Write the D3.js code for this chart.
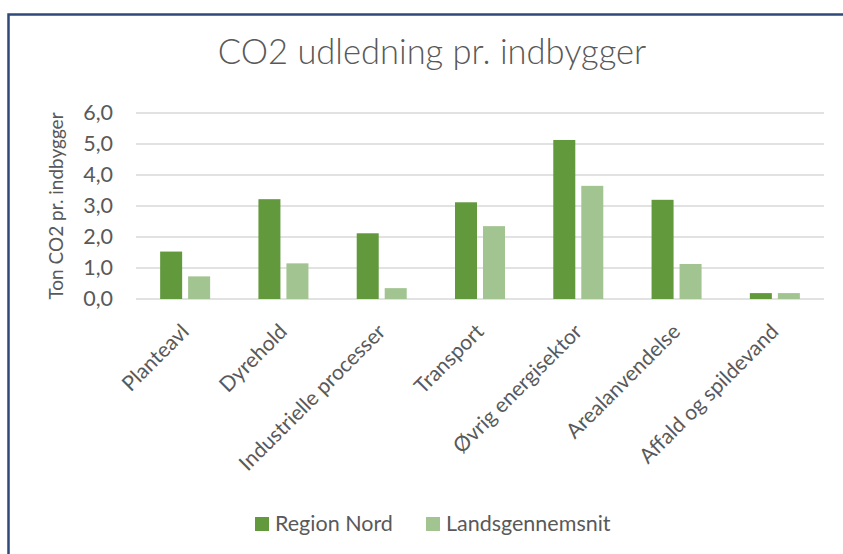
<!DOCTYPE html>
<html>
<head>
<meta charset="utf-8">
<script src="https://cdn.jsdelivr.net/npm/d3@7"></script>
<style>
  html, body { margin: 0; padding: 0; background: #fff; }
  svg { display: block; font-family: Lato, "Open Sans", sans-serif; }
</style>
</head>
<body>
<svg id="chart" width="843" height="554"></svg>
<script>
const categories = ["Planteavl", "Dyrehold", "Industrielle processer", "Transport", "Øvrig energisektor", "Arealanvendelse", "Affald og spildevand"];
const seriesNames = ["Region Nord", "Landsgennemsnit"];
const regionNord = [1.53, 3.22, 2.12, 3.12, 5.13, 3.20, 0.19];
const landsgennemsnit = [0.73, 1.15, 0.35, 2.35, 3.65, 1.13, 0.19];
const yTicks = [0, 1, 2, 3, 4, 5, 6];
const colors = ["#63993D", "#A2C490"];

const svg = d3.select("#chart");
const W = 843, H = 554;
const margin = { left: 136, right: 19, top: 113, bottom: 255 };
const plotW = W - margin.left - margin.right;
const plotH = H - margin.top - margin.bottom;
const textColor = "#595959";

// frame (only top and left edges fall inside the picture)
svg.append("rect").attr("x", 8.5).attr("y", 14.5).attr("width", W + 20).attr("height", H + 20)
  .attr("fill", "#fff").attr("stroke", "#2F4A7A").attr("stroke-width", 2.5);

svg.append("text").attr("x", 432).attr("y", 64).attr("text-anchor", "middle")
  .attr("font-size", 34.5).attr("font-weight", 300).attr("fill", textColor)
  .text("CO2 udledning pr. indbygger");

const g = svg.append("g").attr("transform", `translate(${margin.left},${margin.top})`);

const x0 = d3.scaleBand().domain(categories).range([0, plotW]).paddingInner(0).paddingOuter(0);
const x1 = d3.scaleBand().domain(seriesNames)
  .range([x0.bandwidth() / 2 - 25, x0.bandwidth() / 2 + 25]).paddingInner(0.214).paddingOuter(0);
const y = d3.scaleLinear().domain([0, 6]).range([plotH, 0]);

const locale = d3.formatLocale({ decimal: ",", thousands: ".", grouping: [3], currency: ["", " kr"] });
const fmt = locale.format(".1f");

// gridlines
g.append("g").selectAll("line").data(yTicks).join("line")
  .attr("x1", 0).attr("x2", plotW)
  .attr("y1", d => y(d)).attr("y2", d => y(d))
  .attr("stroke", "#D9D9D9").attr("stroke-width", 1.5);

// y axis
const yAxis = d3.axisLeft(y).tickValues(yTicks).tickFormat(fmt).tickSize(0).tickPadding(23);
const ya = g.append("g").call(yAxis);
ya.select(".domain").remove();
ya.selectAll("text").attr("font-size", 21.5).attr("fill", textColor)
  .attr("font-family", "Lato, 'Open Sans', sans-serif");

// bars
const data = categories.map((c, i) => ({ cat: c, vals: [regionNord[i], landsgennemsnit[i]] }));
const groups = g.append("g").selectAll("g").data(data).join("g")
  .attr("transform", d => `translate(${x0(d.cat)},0)`);
groups.selectAll("rect").data(d => d.vals.map((v, j) => ({ s: seriesNames[j], v, j }))).join("rect")
  .attr("x", d => x1(d.s)).attr("width", x1.bandwidth())
  .attr("y", d => y(d.v)).attr("height", d => plotH - y(d.v))
  .attr("fill", d => colors[d.j]);

// x axis labels
const xa = g.append("g").attr("transform", `translate(0,${plotH})`)
  .call(d3.axisBottom(x0).tickSize(0).tickPadding(0));
xa.select(".domain").remove();
xa.selectAll("text")
  .attr("font-size", 21).attr("fill", textColor).attr("font-family", "Lato, 'Open Sans', sans-serif")
  .attr("text-anchor", "end").attr("dy", 0).attr("y", 0).attr("x", 0)
  .attr("transform", "translate(5,34) rotate(-45)");

// y axis title
svg.append("text")
  .attr("transform", `translate(63,${margin.top + plotH / 2}) rotate(-90)`)
  .attr("text-anchor", "middle").attr("font-size", 19).attr("fill", textColor)
  .text("Ton CO2 pr. indbygger");

// legend
const legend = svg.append("g").attr("transform", "translate(255,517)");
const legX = [0, 171];
seriesNames.forEach((s, i) => {
  const lg = legend.append("g").attr("transform", `translate(${legX[i]},0)`);
  lg.append("rect").attr("width", 14).attr("height", 14).attr("fill", colors[i]);
  lg.append("text").attr("x", 20).attr("y", 14).attr("font-size", 21.5).attr("fill", textColor).text(s);
});
</script>
</body>
</html>
